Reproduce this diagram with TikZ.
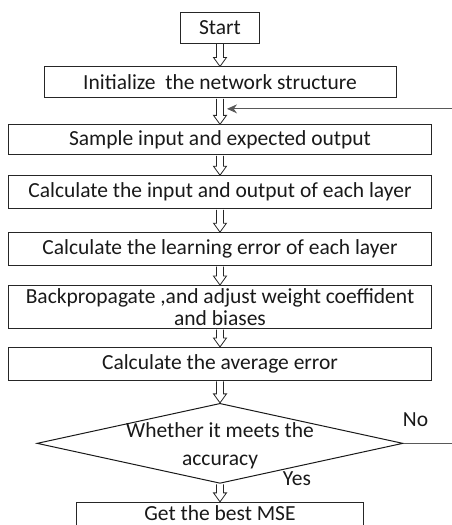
\documentclass[tikz,border=0pt]{standalone}
\usepackage{fontspec}
\setmainfont{Carlito}
\usetikzlibrary{shapes.geometric, arrows.meta, positioning, calc}

\begin{document}
\begin{tikzpicture}[
  x = 1pt, y = 1pt,
  node distance = 21pt,
  box/.style      = {draw=black!85, line width=0.9pt, minimum width=423pt,
                     minimum height=33pt, inner sep=1pt,
                     font=\fontsize{21.5}{22}\selectfont, align=center,
                     text=black!90},
  decision/.style = {draw=black!90, line width=1pt, diamond,
                     minimum width=366pt, minimum height=80pt, inner sep=0pt},
  hol/.style      = {draw=black!85, line width=0.8pt, fill=white,
                     to path={($(\tikztostart)+(-3.5,-0.6)$)
                       -- ($(\tikztotarget)+(-3.5,9)$) -- ($(\tikztotarget)+(-6.5,9)$)
                       -- (\tikztotarget)
                       -- ($(\tikztotarget)+(6.5,9)$) -- ($(\tikztotarget)+(3.5,9)$)
                       -- ($(\tikztostart)+(3.5,-0.6)$)}},
  fb/.style       = {draw=black!65, line width=1pt,
                     -{Stealth[length=10pt, width=9pt]}},
  note/.style     = {font=\fontsize{21.5}{22}\selectfont, text=black!90,
                     align=center}
]
\useasboundingbox (0,0) rectangle (452,-525);
\clip (0,0) rectangle (452,-525);

% Nodes
\node[box, minimum width=79pt, minimum height=31pt] (start) at (220,-27.5) {Start};
\node[box, minimum width=352pt, minimum height=31pt, below=23pt of start] (init)
  {Initialize\ \ the network structure};
\node[box, minimum height=30pt, below=26pt of init] (sample) {Sample input and expected output};
\node[box, below=20pt of sample] (layer) {Calculate the input and output of each layer};
\node[box, below=23pt of layer]  (lerr)  {Calculate the learning error of each layer};
\node[box, minimum height=43pt, below=19pt of lerr] (back)
  {Backpropagate ,and adjust weight coeffident\\and biases};
\node[box, below=18pt of back]   (avg)   {Calculate the average error};
\node[decision, below=22pt of avg] (dec) {};
\node[note, font=\fontsize{21.5}{28}\selectfont] (dectxt) at ($(dec)+(0,-2)$)
  {Whether it meets the\\accuracy};
\node[box, minimum width=287pt, minimum height=32pt, text depth=10pt,
      below=18pt of dec] (mse) {Get the best MSE};

% Hollow arrows
\draw[hol] (start.south)  to (init.north);
\draw[hol] (init.south)   to (sample.north);
\draw[hol] (sample.south) to (layer.north);
\draw[hol] (layer.south)  to (lerr.north);
\draw[hol] (lerr.south)   to (back.north);
\draw[hol] (back.south)   to (avg.north);
\draw[hol] (avg.south)    to (dec.north);
\draw[hol] (dec.south)    to (mse.north);

% Loop back when accuracy is not met
\coordinate (rside)  at (470,0);
\coordinate (loopin) at ($(init.south)+(7,-10.5)$);
\draw[fb] (dec.east) -- (dec.east -| rside) |- (loopin);

% Branch labels
\node[note] (no)  at ($(dec.east)+(12,24)$) {No};
\node[note] (yes) at ($(dec.south)+(77,5)$) {Yes};
\end{tikzpicture}
\end{document}
